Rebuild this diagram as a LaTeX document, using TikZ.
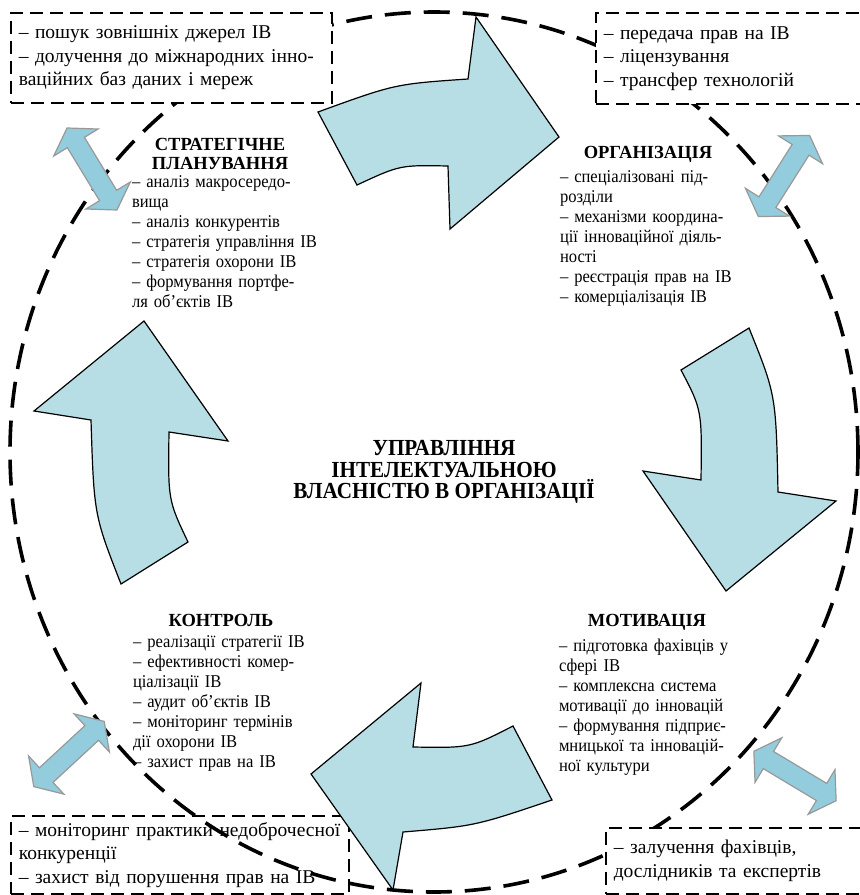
\documentclass[tikz,border=0pt]{standalone}
\usepackage{fontspec}
\setmainfont{Liberation Serif}
\newfontfamily\narrowserif[FakeStretch=0.92]{Liberation Serif}
\usepackage{tikz}
\usetikzlibrary{positioning}
\definecolor{arrowblue}{RGB}{183,222,228}
\definecolor{linkblue}{RGB}{146,204,221}

\newcommand\dblarrow[3]{%
  \draw[linkarrow, shift={(#1,#2)}, rotate=#3]
    (-48,0) -- (-31,26) -- (-31,10) -- (31,10) -- (31,26) -- (48,0)
    -- (31,-26) -- (31,-10) -- (-31,-10) -- (-31,-26) -- cycle;}

\begin{document}
\begin{tikzpicture}[x=1pt, y=-1pt, semithick,
  ring/.style={line width=3.6pt, dash pattern=on 26pt off 13pt},
  infobox/.style={draw, line width=1.6pt, dash pattern=on 13pt off 7pt, fill=white,
    anchor=north west, align=left, inner xsep=8pt, inner ysep=0pt,
    font=\fontsize{19.5}{23.5}\selectfont},
  bigarrow/.style={draw, line width=1.2pt, fill=arrowblue},
  linkarrow/.style={draw=gray!80, line width=1.2pt, fill=linkblue},
  stagehead/.style={font=\bfseries\fontsize{18.5}{18.5}\selectfont, align=center, inner sep=0pt},
  stagebody/.style={font=\narrowserif\fontsize{18}{20}\selectfont, text width=200pt,
    align=left, inner sep=0pt, xshift=12pt},
  hub/.style={font=\narrowserif\bfseries\fontsize{23}{21.7}\selectfont, align=center, inner sep=0pt}]
  \useasboundingbox (0,0) rectangle (860,895);

  \node[infobox, fill=none, text width=322pt, minimum height=78pt] (spybox) at (10,815)
    {– моніторинг практики недоброчесної\\конкуренції\\– захист від порушення прав на ІВ};

  \coordinate (hubc) at (434,452);
  \draw[ring] (hubc) ellipse [x radius=424pt, y radius=440pt];

  \node[infobox, text width=305pt, minimum height=90pt] (srcbox) at (10,12)
    {– пошук зовнішніх джерел ІВ\\– долучення до міжнародних інно-\\ваційних баз даних і мереж};
  \node[infobox, text width=270pt, minimum height=91pt] (tradebox) at (595,12)
    {– передача прав на ІВ\\– ліцензування\\– трансфер технологій};
  \node[infobox, text width=259pt, minimum height=66pt] (staffbox) at (605,827)
    {– залучення фахівців,\\дослідників та експертів};

  % cycle arrows
  \draw[bigarrow] (318,112) .. controls (395,84) .. (468,79) -- (476,17) -- (559,137)
    -- (450,229) -- (448,166) .. controls (400,165) .. (357,185) -- cycle;
  \draw[bigarrow] (749,328) .. controls (776,395) .. (778,492) -- (836,501) -- (726,591)
    -- (643,471) -- (701,480) .. controls (702,410) .. (681,370) -- cycle;
  \draw[bigarrow] (513,726) .. controls (470,748) .. (413,747) -- (421,683) -- (311,774)
    -- (393,890) -- (403,832) .. controls (475,826) .. (552,800) -- cycle;
  \draw[bigarrow] (188,542) .. controls (168,500) .. (169,432) -- (228,441) -- (144,321)
    -- (34,411) -- (91,420) .. controls (94,515) .. (121,584) -- cycle;

  % links to the outside
  \dblarrow{92}{169}{-58.7}
  \dblarrow{784}{176}{57.7}
  \dblarrow{69}{754}{42.8}
  \dblarrow{795}{776}{-31}

  \node[hub] (hub) at (444,472) {УПРАВЛІННЯ\\ІНТЕЛЕКТУАЛЬНОЮ\\ВЛАСНІСТЮ В ОРГАНІЗАЦІЇ};

  \node[stagehead] (planhead) at (220,154) {СТРАТЕГІЧНЕ\\ПЛАНУВАННЯ};
  \node[stagebody, below=6pt of planhead] (planbody)
    {– аналіз макросередо-\\вища\\– аналіз конкурентів\\– стратегія управління ІВ\\– стратегія охорони ІВ\\– формування портфе-\\ля об’єктів ІВ};

  \node[stagehead] (orghead) at (648,154) {ОРГАНІЗАЦІЯ};
  \node[stagebody, below=8pt of orghead] (orgbody)
    {– спеціалізовані під-\\розділи\\– механізми координа-\\ції інноваційної діяль-\\ності\\– реєстрація прав на ІВ\\– комерціалізація ІВ};

  \node[stagehead] (ctrlhead) at (221,620) {КОНТРОЛЬ};
  \node[stagebody, below=9pt of ctrlhead] (ctrlbody)
    {– реалізації стратегії ІВ\\– ефективності комер-\\ціалізації ІВ\\– аудит об’єктів ІВ\\– моніторинг термінів\\дії охорони ІВ\\– захист прав на ІВ};

  \node[stagehead] (motivhead) at (647,622) {МОТИВАЦІЯ};
  \node[stagebody, below=8pt of motivhead] (motivbody)
    {– підготовка фахівців у\\сфері ІВ\\– комплексна система\\мотивації до інновацій\\– формування підприє-\\мницької та інновацій-\\ної культури};
\end{tikzpicture}
\end{document}
